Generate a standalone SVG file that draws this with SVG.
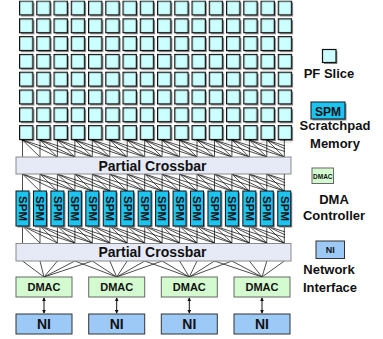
<svg xmlns="http://www.w3.org/2000/svg" width="383" height="339" viewBox="0 0 383 339">
<style>
  text { font-family: "Liberation Sans", Arial, sans-serif; font-weight: bold; fill: #111; }
  .cell { fill: #ccffff; stroke: #111; stroke-width: 1.2; }
  .shadow { fill: #8a8a8a; }
  .spm { fill: #1cc4f2; stroke: #111; stroke-width: 1; }
  .xbar { fill: #e6eaf6; stroke: #8a8a8a; stroke-width: 1; }
  .dmac { fill: #d4fbcf; stroke: #666; stroke-width: 1; }
  .ni { fill: #9dc9f7; stroke: #333; stroke-width: 1; }
  .wire { stroke: #000; stroke-width: 0.7; fill: none; }
  .arrow { stroke: #111; stroke-width: 1; fill: none; marker-start: url(#ah); marker-end: url(#ah); }
  .lbl { font-size: 13px; text-anchor: middle; }
</style>
<defs>
  <pattern id="pf" x="19" y="0.5" width="17.25" height="17.8" patternUnits="userSpaceOnUse">
    <rect class="shadow" x="2" y="2" width="13.4" height="14"/>
    <rect class="cell" x="0.6" y="0.6" width="13.2" height="13.8"/>
  </pattern>
  <marker id="ah" viewBox="0 0 6 6" refX="5" refY="3" markerWidth="4" markerHeight="4" orient="auto-start-reverse" markerUnits="userSpaceOnUse">
    <path d="M0,0 L6,3 L0,6 z" fill="#111"/>
  </marker>
  <g id="fan">
    <path class="wire" d="M0,0 V17 M0,0 L17.45,17 M0,0 L34.9,17 M0,0 L52.35,17"/>
  </g>
  <clipPath id="clipw"><rect x="0" y="0" width="285" height="339"/></clipPath>
  <g id="spmbox">
    <rect class="shadow" x="1.5" y="1.5" width="13" height="35"/>
    <rect class="spm" x="0" y="0" width="13" height="35"/>
  </g>
</defs>

<g id="pf-grid">
  <rect x="19" y="0.5" width="276" height="142.4" fill="url(#pf)"/>
</g>

<g id="connectors">
  <g clip-path="url(#clipw)">
    <use href="#fan" x="22.5" y="140"/><use href="#fan" x="40" y="140"/><use href="#fan" x="57.4" y="140"/><use href="#fan" x="74.9" y="140"/>
    <use href="#fan" x="92.3" y="140"/><use href="#fan" x="109.8" y="140"/><use href="#fan" x="127.2" y="140"/><use href="#fan" x="144.7" y="140"/>
    <use href="#fan" x="162.1" y="140"/><use href="#fan" x="179.6" y="140"/><use href="#fan" x="197" y="140"/><use href="#fan" x="214.5" y="140"/>
    <use href="#fan" x="231.9" y="140"/><use href="#fan" x="249.4" y="140"/><use href="#fan" x="266.8" y="140"/><use href="#fan" x="284.3" y="140"/>

    <use href="#fan" x="22.5" y="174"/><use href="#fan" x="40" y="174"/><use href="#fan" x="57.4" y="174"/><use href="#fan" x="74.9" y="174"/>
    <use href="#fan" x="92.3" y="174"/><use href="#fan" x="109.8" y="174"/><use href="#fan" x="127.2" y="174"/><use href="#fan" x="144.7" y="174"/>
    <use href="#fan" x="162.1" y="174"/><use href="#fan" x="179.6" y="174"/><use href="#fan" x="197" y="174"/><use href="#fan" x="214.5" y="174"/>
    <use href="#fan" x="231.9" y="174"/><use href="#fan" x="249.4" y="174"/><use href="#fan" x="266.8" y="174"/><use href="#fan" x="284.3" y="174"/>

    <use href="#fan" x="22.5" y="226"/><use href="#fan" x="40" y="226"/><use href="#fan" x="57.4" y="226"/><use href="#fan" x="74.9" y="226"/>
    <use href="#fan" x="92.3" y="226"/><use href="#fan" x="109.8" y="226"/><use href="#fan" x="127.2" y="226"/><use href="#fan" x="144.7" y="226"/>
    <use href="#fan" x="162.1" y="226"/><use href="#fan" x="179.6" y="226"/><use href="#fan" x="197" y="226"/><use href="#fan" x="214.5" y="226"/>
    <use href="#fan" x="231.9" y="226"/><use href="#fan" x="249.4" y="226"/><use href="#fan" x="266.8" y="226"/><use href="#fan" x="284.3" y="226"/>
  </g>
  <path class="wire" d="M44,277 L22.5,261 M44,277 L40,261 M44,277 L57.4,261 M44,277 L74.9,261 M44,277 L92.3,261
    M116.7,277 L74.9,261 M116.7,277 L92.3,261 M116.7,277 L109.8,261 M116.7,277 L127.2,261 M116.7,277 L144.7,261 M116.7,277 L162.1,261
    M189.3,277 L144.7,261 M189.3,277 L162.1,261 M189.3,277 L179.6,261 M189.3,277 L197,261 M189.3,277 L214.5,261 M189.3,277 L231.9,261
    M262,277 L214.5,261 M262,277 L231.9,261 M262,277 L249.4,261 M262,277 L266.8,261 M262,277 L284.3,261"/>
  <line class="arrow" x1="44" y1="298" x2="44" y2="313"/>
  <line class="arrow" x1="116.7" y1="298" x2="116.7" y2="313"/>
  <line class="arrow" x1="189.3" y1="298" x2="189.3" y2="313"/>
  <line class="arrow" x1="262" y1="298" x2="262" y2="313"/>
</g>

<g id="crossbar-top">
  <rect class="xbar" x="16" y="157" width="275" height="17"/>
  <text x="152.5" y="170.5" font-size="14" text-anchor="middle">Partial Crossbar</text>
</g>

<g id="spms">
  <g id="spm1"><use href="#spmbox" x="16" y="191"/><text transform="translate(22.5,208.5) rotate(90)" y="3.6" font-size="10" text-anchor="middle" textLength="25" lengthAdjust="spacingAndGlyphs">SPM</text></g>
  <g id="spm2"><use href="#spmbox" x="33.45" y="191"/><text transform="translate(39.95,208.5) rotate(90)" y="3.6" font-size="10" text-anchor="middle" textLength="25" lengthAdjust="spacingAndGlyphs">SPM</text></g>
  <g id="spm3"><use href="#spmbox" x="50.9" y="191"/><text transform="translate(57.4,208.5) rotate(90)" y="3.6" font-size="10" text-anchor="middle" textLength="25" lengthAdjust="spacingAndGlyphs">SPM</text></g>
  <g id="spm4"><use href="#spmbox" x="68.35" y="191"/><text transform="translate(74.85,208.5) rotate(90)" y="3.6" font-size="10" text-anchor="middle" textLength="25" lengthAdjust="spacingAndGlyphs">SPM</text></g>
  <g id="spm5"><use href="#spmbox" x="85.8" y="191"/><text transform="translate(92.3,208.5) rotate(90)" y="3.6" font-size="10" text-anchor="middle" textLength="25" lengthAdjust="spacingAndGlyphs">SPM</text></g>
  <g id="spm6"><use href="#spmbox" x="103.25" y="191"/><text transform="translate(109.75,208.5) rotate(90)" y="3.6" font-size="10" text-anchor="middle" textLength="25" lengthAdjust="spacingAndGlyphs">SPM</text></g>
  <g id="spm7"><use href="#spmbox" x="120.7" y="191"/><text transform="translate(127.2,208.5) rotate(90)" y="3.6" font-size="10" text-anchor="middle" textLength="25" lengthAdjust="spacingAndGlyphs">SPM</text></g>
  <g id="spm8"><use href="#spmbox" x="138.15" y="191"/><text transform="translate(144.65,208.5) rotate(90)" y="3.6" font-size="10" text-anchor="middle" textLength="25" lengthAdjust="spacingAndGlyphs">SPM</text></g>
  <g id="spm9"><use href="#spmbox" x="155.6" y="191"/><text transform="translate(162.1,208.5) rotate(90)" y="3.6" font-size="10" text-anchor="middle" textLength="25" lengthAdjust="spacingAndGlyphs">SPM</text></g>
  <g id="spm10"><use href="#spmbox" x="173.05" y="191"/><text transform="translate(179.55,208.5) rotate(90)" y="3.6" font-size="10" text-anchor="middle" textLength="25" lengthAdjust="spacingAndGlyphs">SPM</text></g>
  <g id="spm11"><use href="#spmbox" x="190.5" y="191"/><text transform="translate(197,208.5) rotate(90)" y="3.6" font-size="10" text-anchor="middle" textLength="25" lengthAdjust="spacingAndGlyphs">SPM</text></g>
  <g id="spm12"><use href="#spmbox" x="207.95" y="191"/><text transform="translate(214.45,208.5) rotate(90)" y="3.6" font-size="10" text-anchor="middle" textLength="25" lengthAdjust="spacingAndGlyphs">SPM</text></g>
  <g id="spm13"><use href="#spmbox" x="225.4" y="191"/><text transform="translate(231.9,208.5) rotate(90)" y="3.6" font-size="10" text-anchor="middle" textLength="25" lengthAdjust="spacingAndGlyphs">SPM</text></g>
  <g id="spm14"><use href="#spmbox" x="242.85" y="191"/><text transform="translate(249.35,208.5) rotate(90)" y="3.6" font-size="10" text-anchor="middle" textLength="25" lengthAdjust="spacingAndGlyphs">SPM</text></g>
  <g id="spm15"><use href="#spmbox" x="260.3" y="191"/><text transform="translate(266.8,208.5) rotate(90)" y="3.6" font-size="10" text-anchor="middle" textLength="25" lengthAdjust="spacingAndGlyphs">SPM</text></g>
  <g id="spm16"><use href="#spmbox" x="277.75" y="191"/><text transform="translate(284.25,208.5) rotate(90)" y="3.6" font-size="10" text-anchor="middle" textLength="25" lengthAdjust="spacingAndGlyphs">SPM</text></g>
</g>

<g id="crossbar-bottom">
  <rect class="xbar" x="16" y="243.5" width="275" height="17.5"/>
  <text x="152.5" y="257" font-size="14" text-anchor="middle">Partial Crossbar</text>
</g>

<g id="dmac1"><rect class="dmac" x="16" y="277" width="56" height="20"/><text x="44" y="291" font-size="11" text-anchor="middle">DMAC</text></g>
<g id="dmac2"><rect class="dmac" x="88.7" y="277" width="56" height="20"/><text x="116.7" y="291" font-size="11" text-anchor="middle">DMAC</text></g>
<g id="dmac3"><rect class="dmac" x="161.3" y="277" width="56" height="20"/><text x="189.3" y="291" font-size="11" text-anchor="middle">DMAC</text></g>
<g id="dmac4"><rect class="dmac" x="234" y="277" width="56" height="20"/><text x="262" y="291" font-size="11" text-anchor="middle">DMAC</text></g>

<g id="ni1"><rect class="ni" x="16" y="314" width="56" height="20"/><text x="44" y="329" font-size="14" text-anchor="middle">NI</text></g>
<g id="ni2"><rect class="ni" x="88.7" y="314" width="56" height="20"/><text x="116.7" y="329" font-size="14" text-anchor="middle">NI</text></g>
<g id="ni3"><rect class="ni" x="161.3" y="314" width="56" height="20"/><text x="189.3" y="329" font-size="14" text-anchor="middle">NI</text></g>
<g id="ni4"><rect class="ni" x="234" y="314" width="56" height="20"/><text x="262" y="329" font-size="14" text-anchor="middle">NI</text></g>

<g id="legend-pf">
  <rect class="shadow" x="324" y="51" width="13.4" height="13"/>
  <rect class="cell" x="322.5" y="49.5" width="13.5" height="13"/>
  <text class="lbl" x="329" y="78">PF Slice</text>
</g>
<g id="legend-spm">
  <rect class="shadow" x="312.5" y="103.5" width="34" height="17"/>
  <rect class="spm" x="311" y="102" width="34" height="17"/>
  <text x="328" y="115.5" font-size="12" text-anchor="middle">SPM</text>
  <text class="lbl" x="335" y="130">Scratchpad</text>
  <text class="lbl" x="335" y="148">Memory</text>
</g>
<g id="legend-dmac">
  <rect class="dmac" x="312" y="168" width="21.5" height="15.5"/>
  <text x="322.8" y="178.5" font-size="6.5" text-anchor="middle">DMAC</text>
  <text class="lbl" x="334" y="204">DMA</text>
  <text class="lbl" x="334" y="220">Controller</text>
</g>
<g id="legend-ni">
  <rect class="ni" x="316" y="241" width="28.5" height="17.5"/>
  <text x="330.2" y="253" font-size="9" text-anchor="middle">NI</text>
  <text class="lbl" x="329" y="274">Network</text>
  <text class="lbl" x="330" y="292">Interface</text>
</g>
</svg>
